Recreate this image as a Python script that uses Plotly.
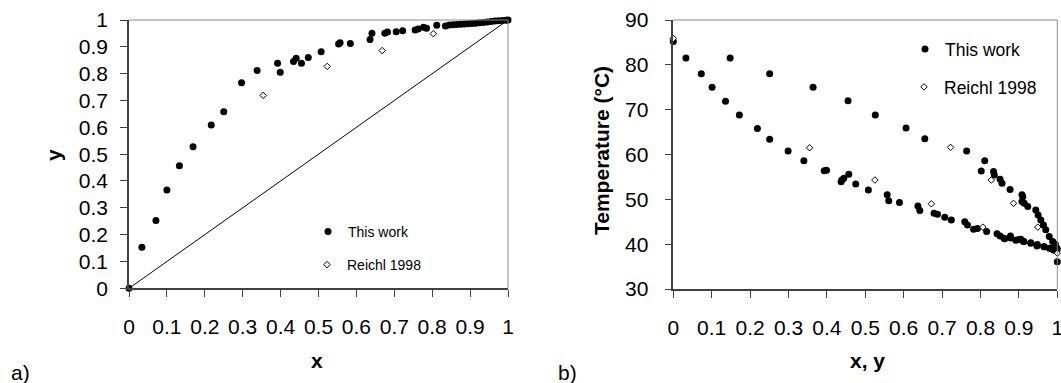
import plotly.graph_objects as go

# ---- Panel a) x-y diagram ----
xy_this_x = [0.0, 0.034, 0.071, 0.100, 0.133, 0.169, 0.217, 0.250, 0.297, 0.338,
             0.392, 0.399, 0.434, 0.441, 0.455, 0.473, 0.507, 0.553, 0.557, 0.584,
             0.636, 0.641, 0.675, 0.682, 0.705, 0.722, 0.755, 0.763, 0.777, 0.785,
             0.812, 0.835, 0.845, 0.855, 0.865, 0.875, 0.885, 0.895, 0.905, 0.915,
             0.925, 0.935, 0.945, 0.955, 0.965, 0.975, 0.985, 0.995, 1.0]
xy_this_y = [0.0, 0.153, 0.253, 0.366, 0.457, 0.528, 0.609, 0.658, 0.766, 0.812,
             0.839, 0.805, 0.845, 0.857, 0.839, 0.860, 0.882, 0.911, 0.915, 0.912,
             0.927, 0.951, 0.951, 0.955, 0.956, 0.960, 0.963, 0.966, 0.973, 0.969,
             0.980, 0.978, 0.981, 0.982, 0.983, 0.984, 0.985, 0.986, 0.987, 0.988,
             0.990, 0.991, 0.993, 0.994, 0.996, 0.997, 0.998, 0.999, 1.0]
xy_reichl_x = [0.354, 0.523, 0.668, 0.803]
xy_reichl_y = [0.719, 0.827, 0.886, 0.949]
diag = [0.0, 1.0]

# ---- Panel b) T-x-y diagram ----
txy_this_x = [0.0, 0.033, 0.073, 0.101, 0.136, 0.172, 0.219, 0.251, 0.299, 0.340,
              0.393, 0.399, 0.437, 0.439, 0.444, 0.457, 0.475, 0.508, 0.557, 0.561,
              0.589, 0.637, 0.642, 0.679, 0.688, 0.707, 0.724, 0.759, 0.766, 0.782,
              0.792, 0.816, 0.843, 0.851, 0.861, 0.863, 0.878, 0.879, 0.892, 0.897,
              0.905, 0.912, 0.913, 0.931, 0.931, 0.947, 0.948, 0.965, 0.966, 0.979,
              0.983, 0.990, 0.995, 0.997, 0.998, 1.0, 1.0,
              # dew branch
              0.148, 0.251, 0.364, 0.455, 0.526, 0.606, 0.655, 0.764, 0.802, 0.811,
              0.834, 0.836, 0.851, 0.856, 0.877, 0.908, 0.910, 0.908, 0.914, 0.923,
              0.944, 0.950, 0.957, 0.964, 0.970, 0.979, 0.988, 0.997]
txy_this_t = [85.2, 81.5, 78.0, 75.0, 71.9, 68.8, 65.8, 63.4, 60.8, 58.6,
              56.4, 56.5, 53.9, 54.3, 54.7, 55.6, 53.4, 52.1, 51.0, 49.7,
              49.3, 48.5, 47.5, 46.9, 46.7, 46.0, 45.4, 45.0, 44.3, 43.3,
              43.5, 42.8, 42.3, 41.8, 41.3, 41.2, 41.8, 41.4, 40.9, 41.0,
              41.1, 40.6, 40.6, 40.2, 40.3, 39.6, 39.9, 39.4, 39.4, 39.1,
              39.1, 38.7, 40.0, 38.7, 39.2, 38.9, 36.1,
              81.5, 78.0, 75.0, 72.0, 68.8, 65.9, 63.5, 60.8, 56.3, 58.6,
              56.2, 55.4, 54.5, 53.6, 52.2, 51.0, 50.6, 49.5, 49.1, 48.4,
              47.6, 46.5, 45.4, 44.3, 43.2, 41.7, 40.6, 39.1]
txy_reichl_x = [0.0, 0.355, 0.525, 0.672, 0.722, 0.806, 0.828, 0.886, 0.949, 1.0]
txy_reichl_t = [85.9, 61.5, 54.3, 49.0, 61.6, 43.8, 54.3, 49.1, 43.8, 38.0]

FONT = "Liberation Sans, Arial, sans-serif"
W, H = 1061, 383

circle = dict(symbol="circle", size=7, color="black")
diamond = dict(symbol="diamond", size=5, color="white", line=dict(color="black", width=1))

fig = go.Figure()
fig.add_trace(go.Scatter(x=diag, y=diag, mode="lines", line=dict(color="black", width=1),
                         showlegend=False, xaxis="x", yaxis="y", hoverinfo="skip"))
fig.add_trace(go.Scatter(x=xy_this_x, y=xy_this_y, mode="markers", marker=circle,
                         name="This work", legend="legend", xaxis="x", yaxis="y", cliponaxis=False))
fig.add_trace(go.Scatter(x=xy_reichl_x, y=xy_reichl_y, mode="markers", marker=diamond,
                         name="Reichl 1998", legend="legend2", xaxis="x", yaxis="y", cliponaxis=False))
fig.add_trace(go.Scatter(x=txy_this_x, y=txy_this_t, mode="markers", marker=circle,
                         name="This work", legend="legend3", xaxis="x2", yaxis="y2", cliponaxis=False))
fig.add_trace(go.Scatter(x=txy_reichl_x, y=txy_reichl_t, mode="markers", marker=diamond,
                         name="Reichl 1998", legend="legend4", xaxis="x2", yaxis="y2", cliponaxis=False))

def px_x(p):
    return p / W

def px_y(p):
    return 1 - p / H

axcommon = dict(showgrid=False, zeroline=False, showline=True, linecolor="#404040", linewidth=1.5,
                ticks="outside", ticklen=7, tickcolor="#404040", tickwidth=1, automargin=False,
                ticklabeloverflow="allow",
                tickfont=dict(family=FONT, size=21, color="black"))

fig.update_layout(
    template="none",
    width=W, height=H, margin=dict(l=0, r=0, t=0, b=0, pad=0), autosize=False,
    paper_bgcolor="white", plot_bgcolor="white",
    xaxis=dict(domain=[px_x(129), px_x(508)], range=[0, 1], dtick=0.1, anchor="y",
               ticklabelstandoff=12, **axcommon),
    yaxis=dict(domain=[px_y(288.3), px_y(20)], range=[0, 1], dtick=0.1, anchor="x",
               ticklabelstandoff=8, **axcommon),
    xaxis2=dict(domain=[px_x(673.3), px_x(1057.3)], range=[0, 1], dtick=0.1, anchor="y2",
                ticklabelstandoff=12, **axcommon),
    yaxis2=dict(domain=[px_y(289), px_y(20)], range=[30, 90], dtick=10, anchor="x2",
                ticklabelstandoff=12, **axcommon),
    showlegend=True,
)

leg_small = dict(bgcolor="rgba(0,0,0,0)", borderwidth=0, font=dict(family=FONT, size=14, color="black"),
                 xanchor="left", yanchor="middle", xref="paper", yref="paper")
leg_big = dict(bgcolor="rgba(0,0,0,0)", borderwidth=0, font=dict(family=FONT, size=17.5, color="black"),
               xanchor="left", yanchor="middle", xref="paper", yref="paper")
fig.update_layout(
    legend=dict(x=px_x(308), y=px_y(232), **leg_small),
    legend2=dict(x=px_x(307), y=px_y(265), **leg_small),
    legend3=dict(x=px_x(905), y=px_y(49), **leg_big),
    legend4=dict(x=px_x(904), y=px_y(87), **leg_big),
)

# plot-area borders (top/right, light grey)
for (x0, x1, y0, y1) in [(129, 508, 20, 288.3), (673.3, 1057.3, 20, 289)]:
    fig.add_shape(type="line", xref="paper", yref="paper", x0=px_x(x0), x1=px_x(x1),
                  y0=px_y(y0), y1=px_y(y0), line=dict(color="#8c8c8c", width=1))
    fig.add_shape(type="line", xref="paper", yref="paper", x0=px_x(x1), x1=px_x(x1),
                  y0=px_y(y0), y1=px_y(y1), line=dict(color="#8c8c8c", width=1))

def ann(text, x, y, size=20, bold=False, angle=0):
    fig.add_annotation(text=f"<b>{text}</b>" if bold else text, x=px_x(x), y=px_y(y),
                       xref="paper", yref="paper", showarrow=False, textangle=angle,
                       xanchor="center", yanchor="middle",
                       font=dict(family=FONT, size=size, color="black"))

ann("y", 53, 155, size=21, bold=True, angle=-90)
ann("x", 317, 360, size=21, bold=True)
ann("Temperature (°C)", 601, 151, size=21, bold=True, angle=-90)
ann("x, y", 867, 360, size=21, bold=True)
ann("a)", 20, 372, size=21)
ann("b)", 567, 372, size=21)

fig.write_html("out.html")
